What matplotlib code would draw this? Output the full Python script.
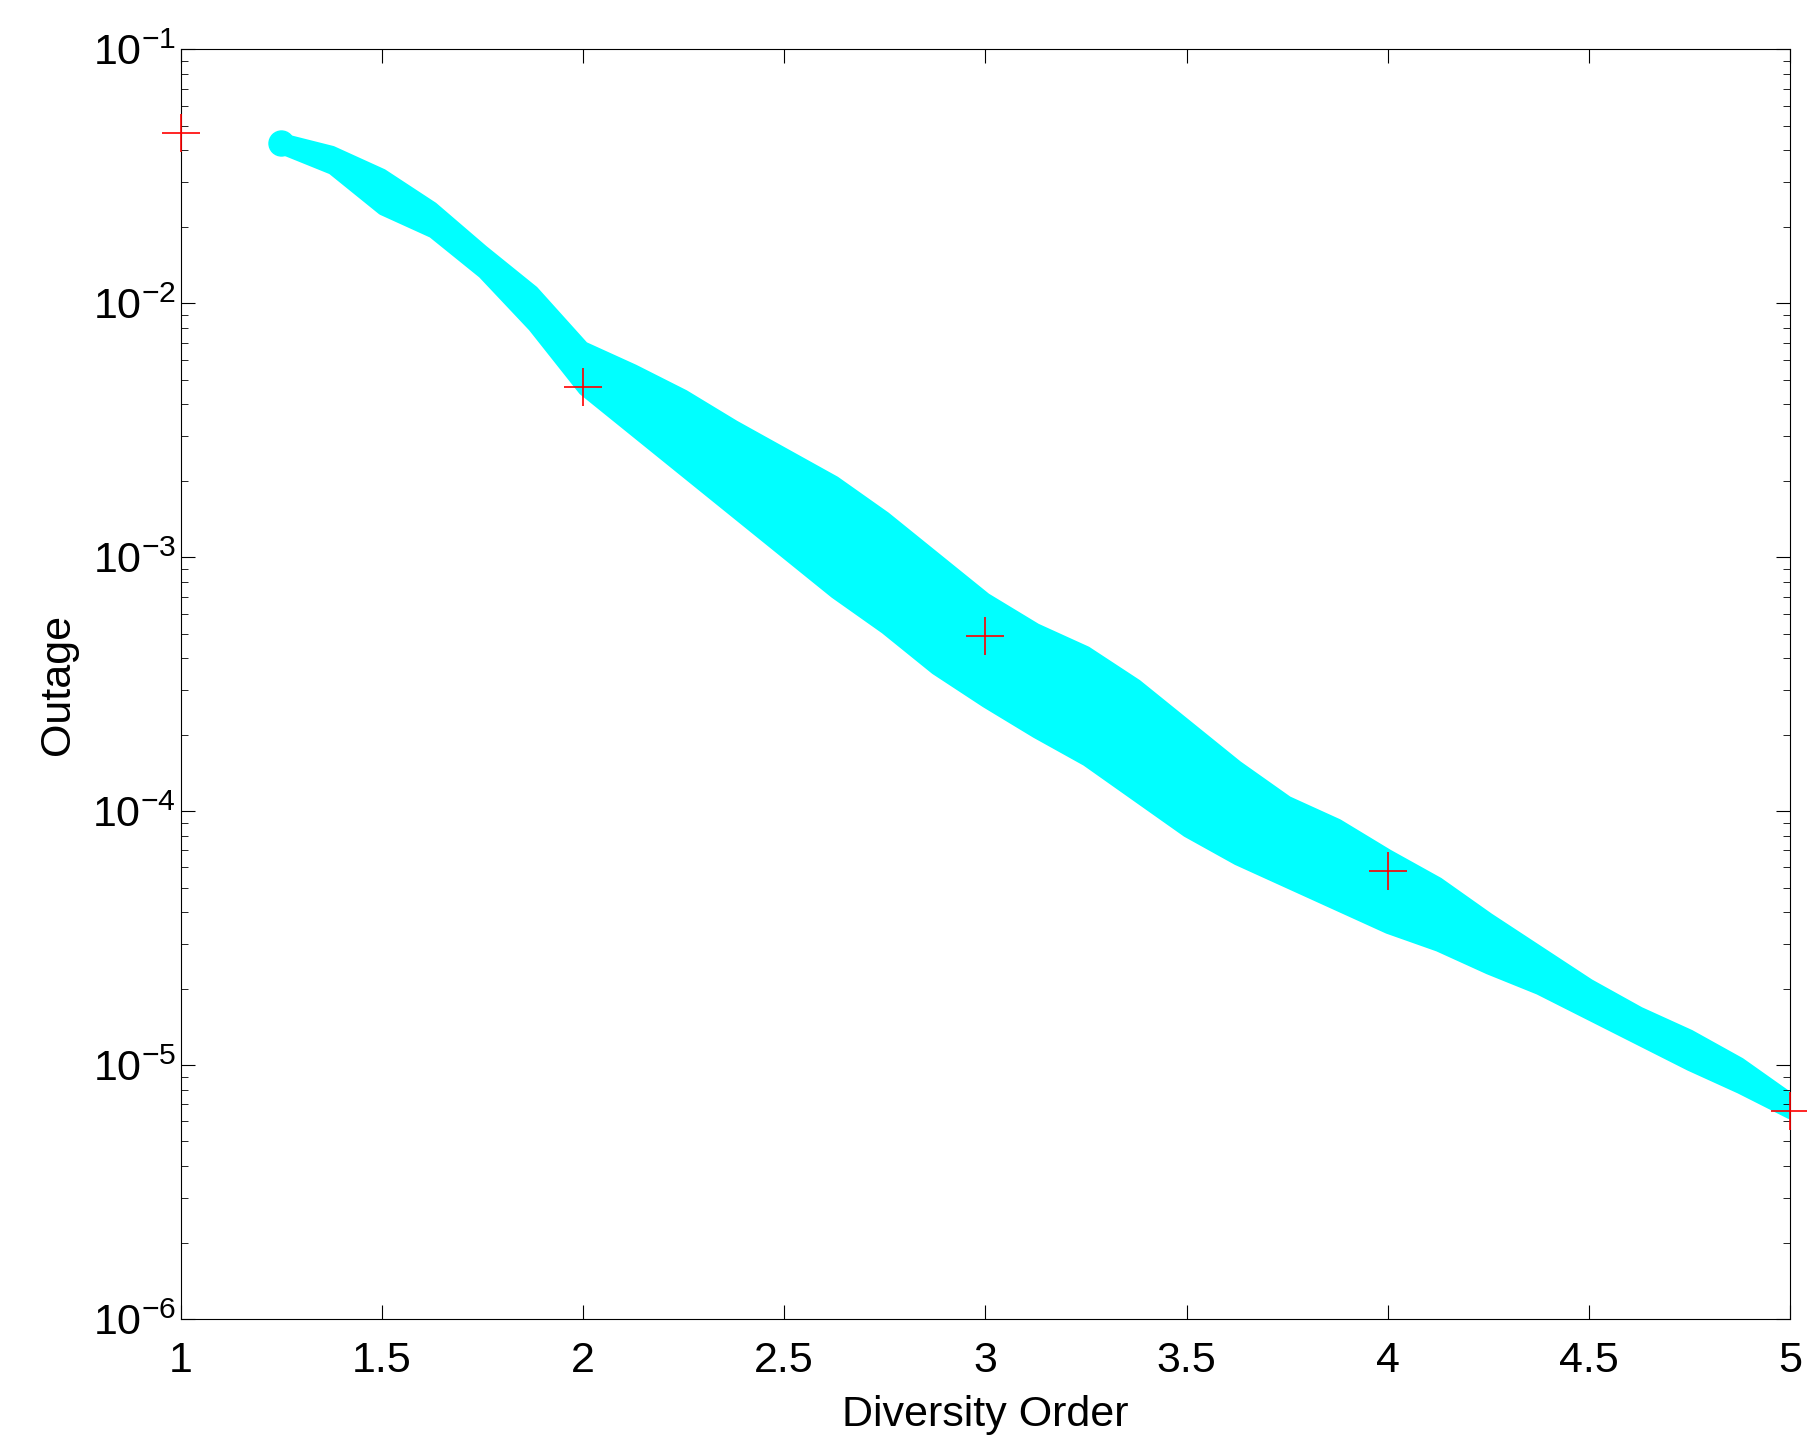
import matplotlib
matplotlib.use("Agg")
import matplotlib.pyplot as plt
import numpy as np
from matplotlib.ticker import LogLocator, NullFormatter

plt.rcParams['font.family'] = ['Liberation Sans', 'DejaVu Sans']
plt.rcParams['mathtext.default'] = 'regular'

band_x = [1.25, 1.375, 1.5, 1.625, 1.75, 1.875, 2.0, 2.125, 2.25, 2.375, 2.5, 2.625, 2.75, 2.875,
          3.0, 3.125, 3.25, 3.375, 3.5, 3.625, 3.75, 3.875, 4.0, 4.125, 4.25, 4.375, 4.5, 4.625,
          4.75, 4.875, 5.0]
upper_log = [-1.35, -1.40, -1.49, -1.62, -1.79, -1.95, -2.17, -2.26, -2.36, -2.48, -2.59, -2.70,
             -2.84, -3.00, -3.16, -3.28, -3.37, -3.50, -3.66, -3.82, -3.96, -4.05, -4.17, -4.28,
             -4.42, -4.55, -4.68, -4.79, -4.88, -4.99, -5.13]
lower_log = [-1.39, -1.47, -1.63, -1.72, -1.88, -2.09, -2.34, -2.50, -2.66, -2.82, -2.98, -3.14,
             -3.28, -3.44, -3.57, -3.69, -3.80, -3.94, -4.08, -4.19, -4.28, -4.37, -4.46, -4.53,
             -4.62, -4.70, -4.80, -4.90, -5.00, -5.09, -5.19]
plus_x = [1, 2, 3, 4, 5]
plus_y = [0.047, 0.0047, 0.00049, 5.8e-5, 6.6e-6]

fig = plt.figure(figsize=(18.08, 14.51), dpi=100)
ax = fig.add_axes([0.10, 0.091, 0.89, 0.875])
up = 10 ** np.array(upper_log)
lo = 10 ** np.array(lower_log)
ax.fill_between(band_x, lo, up, color='#00ffff', lw=8, edgecolor='#00ffff', joinstyle='round')
ax.plot(band_x[:1], [np.sqrt(up[0] * lo[0])], 'o', color='#00ffff', ms=18)
ax.plot(plus_x, plus_y, '+', color='red', ms=28, mew=1.2, clip_on=False, zorder=5)

ax.set_yscale('log')
ax.set_xlim(1, 5)
ax.set_ylim(1e-6, 1e-1)
ax.set_xticks([1, 1.5, 2, 2.5, 3, 3.5, 4, 4.5, 5])
ax.set_xticklabels(['1', '1.5', '2', '2.5', '3', '3.5', '4', '4.5', '5'])
ax.yaxis.set_minor_locator(LogLocator(base=10, subs=np.arange(2, 10), numticks=20))
ax.yaxis.set_minor_formatter(NullFormatter())
ax.tick_params(which='both', direction='in', top=True, right=True, labelsize=31)
ax.tick_params(which='major', length=10)
ax.tick_params(which='minor', length=5)
ax.tick_params(axis='x', pad=16)
ax.set_xlabel('Diversity Order', fontsize=31, labelpad=10)
ax.set_ylabel('Outage', fontsize=31, labelpad=10)
fig.savefig('out.png', dpi=100)
